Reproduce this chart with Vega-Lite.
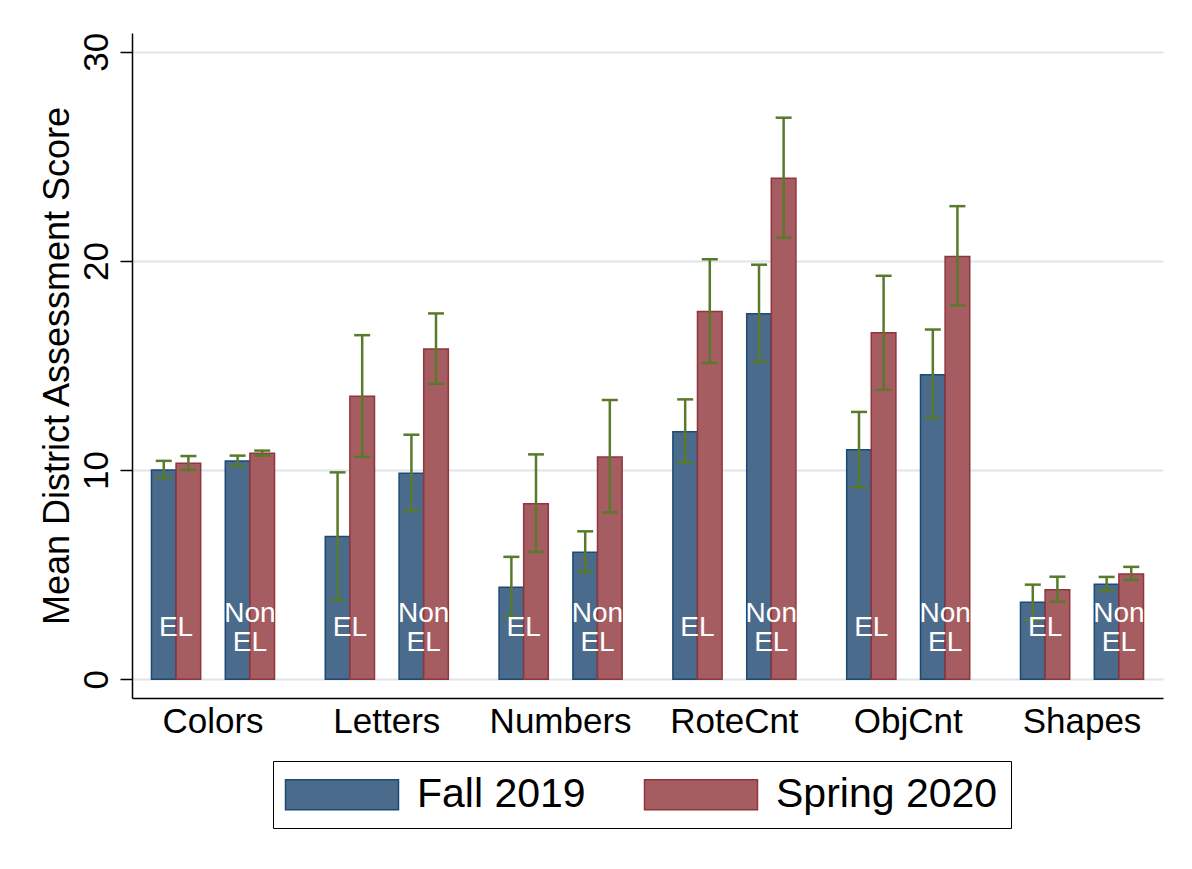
{
  "$schema": "https://vega.github.io/schema/vega-lite/v6.json",
  "width": 1031,
  "height": 665,
  "autosize": {"type": "none"},
  "padding": {"left": 132, "top": 33, "right": 29, "bottom": 171},
  "background": "white",
  "config": {
    "font": "Liberation Sans",
    "view": {"stroke": null},
    "axis": {"labelColor": "black", "titleColor": "black", "titleFontWeight": "normal", "labelFont": "Liberation Sans", "titleFont": "Liberation Sans"}
  },
  "data": {
    "values": [
      {"category": "Colors", "group": "EL", "season": "Fall 2019", "slot": "EL Fall", "mean": 10.0, "lo": 9.62, "hi": 10.44},
      {"category": "Colors", "group": "EL", "season": "Spring 2020", "slot": "EL Spring", "mean": 10.32, "lo": 10.0, "hi": 10.67},
      {"category": "Colors", "group": "Non EL", "season": "Fall 2019", "slot": "Non EL Fall", "mean": 10.43, "lo": 10.2, "hi": 10.69},
      {"category": "Colors", "group": "Non EL", "season": "Spring 2020", "slot": "Non EL Spring", "mean": 10.8, "lo": 10.69, "hi": 10.93},
      {"category": "Letters", "group": "EL", "season": "Fall 2019", "slot": "EL Fall", "mean": 6.82, "lo": 3.78, "hi": 9.89},
      {"category": "Letters", "group": "EL", "season": "Spring 2020", "slot": "EL Spring", "mean": 13.53, "lo": 10.63, "hi": 16.45},
      {"category": "Letters", "group": "Non EL", "season": "Fall 2019", "slot": "Non EL Fall", "mean": 9.85, "lo": 8.04, "hi": 11.69},
      {"category": "Letters", "group": "Non EL", "season": "Spring 2020", "slot": "Non EL Spring", "mean": 15.79, "lo": 14.13, "hi": 17.49},
      {"category": "Numbers", "group": "EL", "season": "Fall 2019", "slot": "EL Fall", "mean": 4.4, "lo": 2.98, "hi": 5.85},
      {"category": "Numbers", "group": "EL", "season": "Spring 2020", "slot": "EL Spring", "mean": 8.39, "lo": 6.09, "hi": 10.75},
      {"category": "Numbers", "group": "Non EL", "season": "Fall 2019", "slot": "Non EL Fall", "mean": 6.07, "lo": 5.14, "hi": 7.07},
      {"category": "Numbers", "group": "Non EL", "season": "Spring 2020", "slot": "Non EL Spring", "mean": 10.63, "lo": 7.98, "hi": 13.35},
      {"category": "RoteCnt", "group": "EL", "season": "Fall 2019", "slot": "EL Fall", "mean": 11.83, "lo": 10.35, "hi": 13.38},
      {"category": "RoteCnt", "group": "EL", "season": "Spring 2020", "slot": "EL Spring", "mean": 17.58, "lo": 15.12, "hi": 20.08},
      {"category": "RoteCnt", "group": "Non EL", "season": "Fall 2019", "slot": "Non EL Fall", "mean": 17.47, "lo": 15.18, "hi": 19.82},
      {"category": "RoteCnt", "group": "Non EL", "season": "Spring 2020", "slot": "Non EL Spring", "mean": 23.96, "lo": 21.12, "hi": 26.85},
      {"category": "ObjCnt", "group": "EL", "season": "Fall 2019", "slot": "EL Fall", "mean": 10.97, "lo": 9.18, "hi": 12.78},
      {"category": "ObjCnt", "group": "EL", "season": "Spring 2020", "slot": "EL Spring", "mean": 16.57, "lo": 13.84, "hi": 19.29},
      {"category": "ObjCnt", "group": "Non EL", "season": "Fall 2019", "slot": "Non EL Fall", "mean": 14.56, "lo": 12.49, "hi": 16.72},
      {"category": "ObjCnt", "group": "Non EL", "season": "Spring 2020", "slot": "Non EL Spring", "mean": 20.21, "lo": 17.87, "hi": 22.62},
      {"category": "Shapes", "group": "EL", "season": "Fall 2019", "slot": "EL Fall", "mean": 3.68, "lo": 2.83, "hi": 4.52},
      {"category": "Shapes", "group": "EL", "season": "Spring 2020", "slot": "EL Spring", "mean": 4.28, "lo": 3.71, "hi": 4.9},
      {"category": "Shapes", "group": "Non EL", "season": "Fall 2019", "slot": "Non EL Fall", "mean": 4.54, "lo": 4.22, "hi": 4.89},
      {"category": "Shapes", "group": "Non EL", "season": "Spring 2020", "slot": "Non EL Spring", "mean": 5.03, "lo": 4.75, "hi": 5.37}
    ]
  },
  "encoding": {
    "x": {
      "field": "category",
      "type": "nominal",
      "sort": ["Colors", "Letters", "Numbers", "RoteCnt", "ObjCnt", "Shapes"],
      "scale": {"paddingInner": 0.292, "paddingOuter": 0.112},
      "title": null,
      "axis": {"ticks": false, "labelFontSize": 35, "labelAngle": 0, "labelPadding": 6, "domainColor": "black", "domainWidth": 1.5, "grid": false}
    },
    "xOffset": {
      "field": "slot",
      "type": "nominal",
      "scale": {"domain": ["EL Fall", "EL Spring", "gap", "Non EL Fall", "Non EL Spring"], "paddingInner": 0, "paddingOuter": 0}
    }
  },
  "layer": [
    {
      "mark": {"type": "bar", "strokeWidth": 1.5},
      "encoding": {
        "y": {
          "field": "mean",
          "type": "quantitative",
          "title": "Mean District Assessment Score",
          "scale": {"domain": [-0.9, 30.9], "nice": false, "zero": false},
          "axis": {"values": [0, 10, 20, 30], "tickSize": 12, "tickWidth": 1.5, "tickColor": "black", "domainColor": "black", "domainWidth": 1.5, "labelFontSize": 35, "labelAngle": -90, "labelAlign": "center", "labelBaseline": "alphabetic", "labelPadding": 13, "grid": true, "gridColor": "#dde6eb", "gridWidth": 2, "titleFontSize": 36, "titlePadding": 3}
        },
        "fill": {
          "field": "season",
          "type": "nominal",
          "scale": {"domain": ["Fall 2019", "Spring 2020"], "range": ["#4a6b8b", "#a65d62"]},
          "legend": {"title": null, "orient": "none", "legendX": 141, "legendY": 728, "direction": "horizontal", "labelFontSize": 41, "labelColor": "black", "labelLimit": 400, "symbolType": "M-1.4,-1L6.133,-1L6.133,1L-1.4,1Z", "symbolSize": 900, "symbolStrokeWidth": 1.5, "symbolOpacity": 1, "labelOffset": 90, "columnPadding": 55, "padding": 13, "strokeColor": "black"}
        },
        "stroke": {
          "field": "season",
          "type": "nominal",
          "scale": {"domain": ["Fall 2019", "Spring 2020"], "range": ["#1c4a74", "#90353b"]},
          "legend": {"title": null, "orient": "none", "legendX": 141, "legendY": 728, "direction": "horizontal", "labelFontSize": 41, "labelColor": "black", "labelLimit": 400, "symbolType": "M-1.4,-1L6.133,-1L6.133,1L-1.4,1Z", "symbolSize": 900, "symbolStrokeWidth": 1.5, "symbolOpacity": 1, "labelOffset": 90, "columnPadding": 55, "padding": 13, "strokeColor": "black"}
        }
      }
    },
    {
      "mark": {"type": "rule", "color": "#587a2a", "strokeWidth": 2.5},
      "encoding": {
        "y": {"field": "lo", "type": "quantitative", "title": "Mean District Assessment Score"},
        "y2": {"field": "hi"}
      }
    },
    {
      "mark": {"type": "tick", "color": "#587a2a", "size": 16, "thickness": 2.5, "opacity": 1},
      "encoding": {
        "y": {"field": "lo", "type": "quantitative", "title": "Mean District Assessment Score"}
      }
    },
    {
      "mark": {"type": "tick", "color": "#587a2a", "size": 16, "thickness": 2.5, "opacity": 1},
      "encoding": {
        "y": {"field": "hi", "type": "quantitative", "title": "Mean District Assessment Score"}
      }
    },
    {
      "transform": [{"filter": "datum.season === 'Fall 2019' && datum.group === 'EL'"}],
      "mark": {"type": "text", "color": "white", "fontSize": 28, "dx": 12.3, "baseline": "middle", "align": "center"},
      "encoding": {
        "y": {"datum": 2.44},
        "text": {"field": "group"}
      }
    },
    {
      "transform": [{"filter": "datum.season === 'Fall 2019' && datum.group === 'Non EL'"}],
      "mark": {"type": "text", "color": "white", "fontSize": 28, "dx": 12.3, "baseline": "middle", "align": "center", "lineBreak": " ", "lineHeight": 29},
      "encoding": {
        "y": {"datum": 3.13},
        "text": {"field": "group"}
      }
    }
  ]
}
